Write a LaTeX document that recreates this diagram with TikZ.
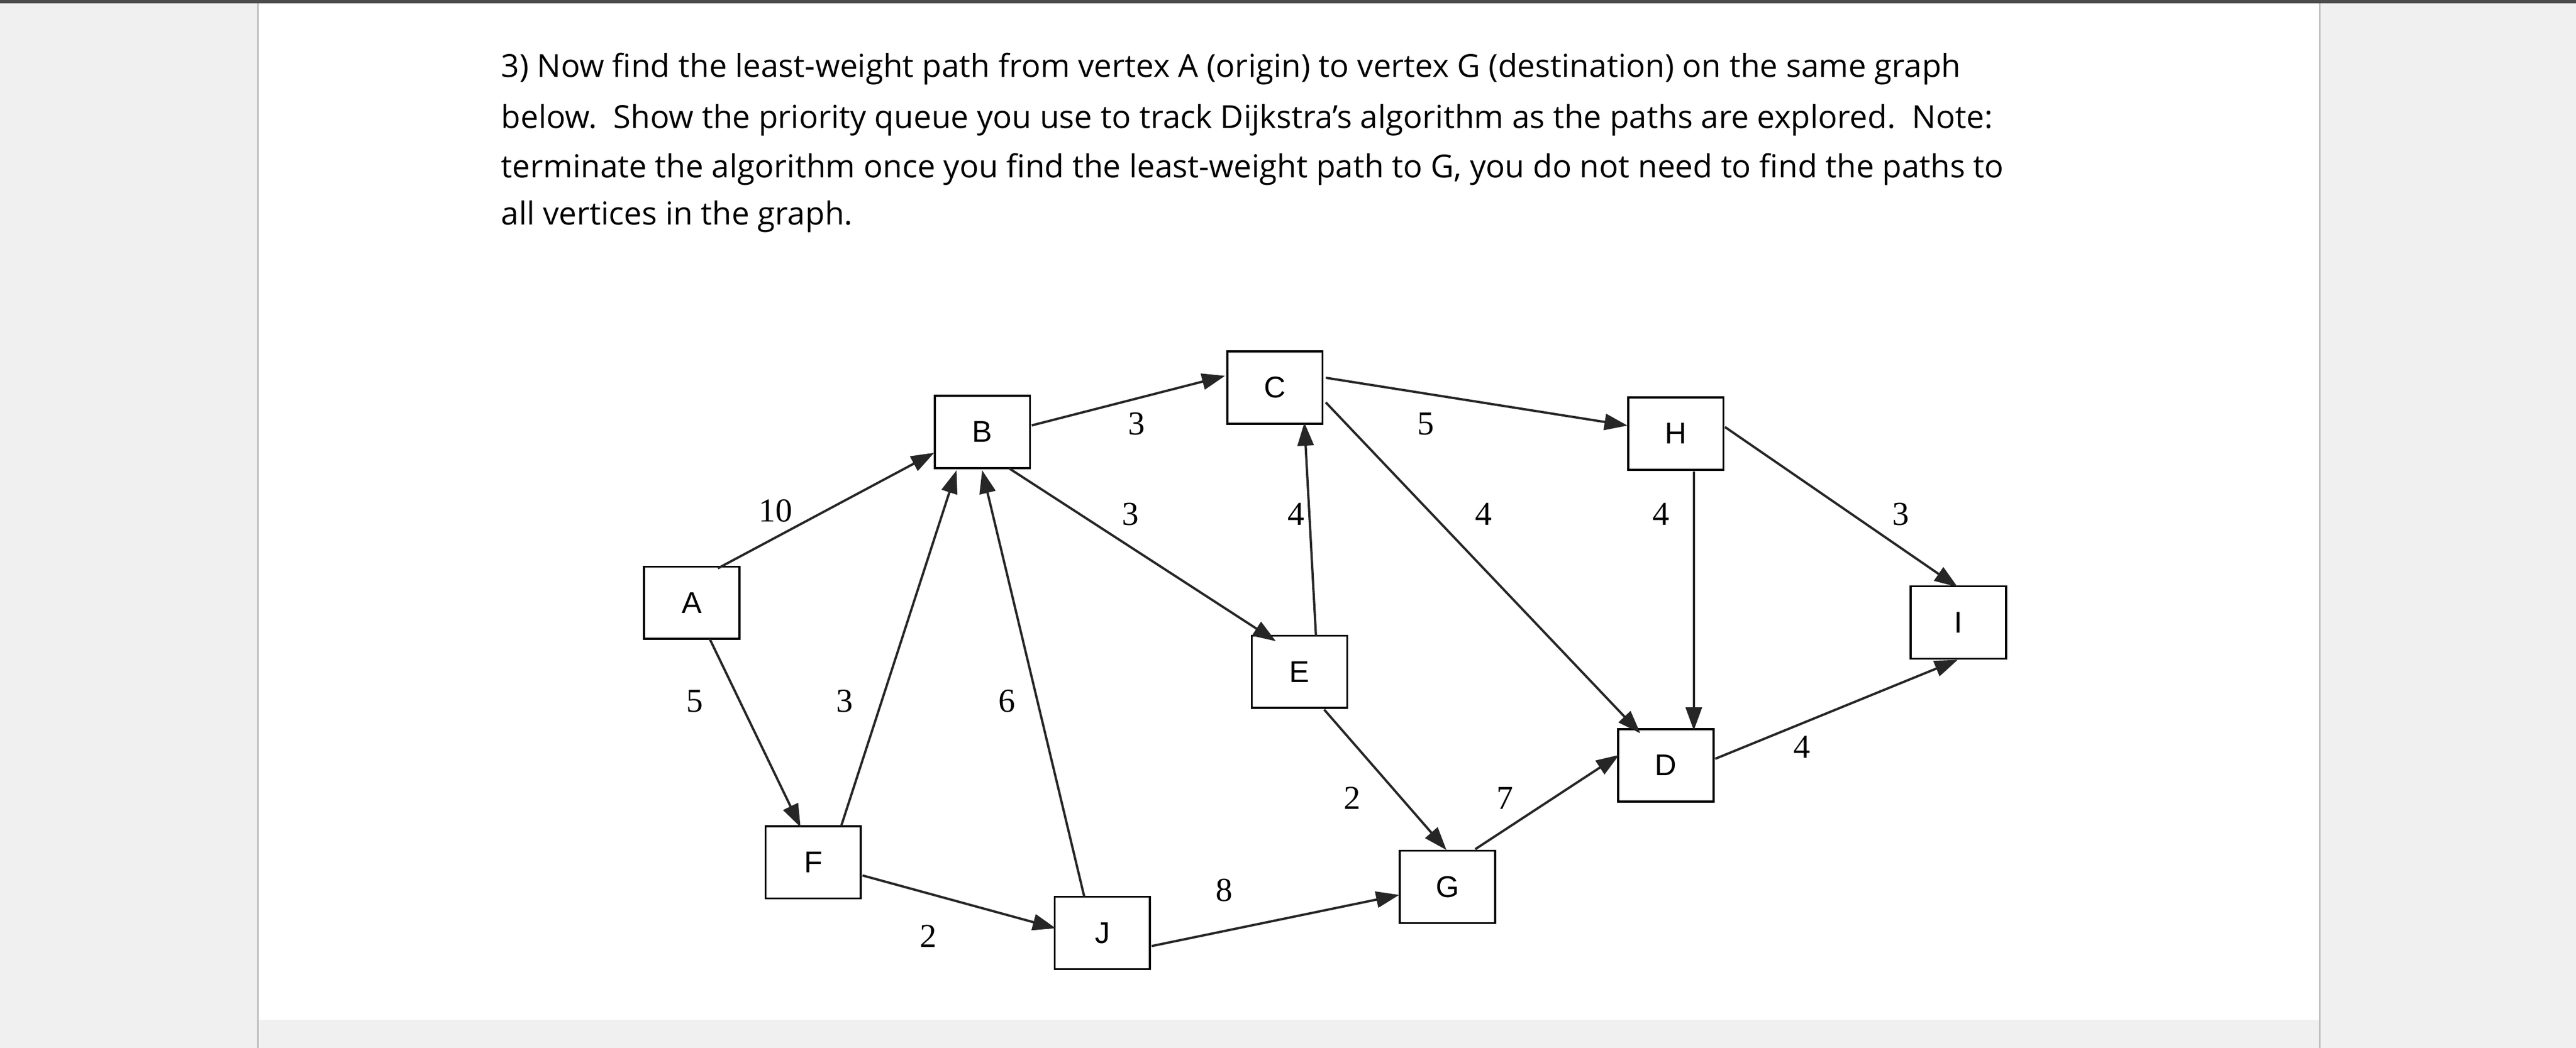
\documentclass[tikz,border=0pt]{standalone}
\usepackage{fontspec}
\setmainfont{Liberation Serif}
\newfontfamily\para{Open Sans}
\newfontfamily\boxf{Liberation Sans}
\usetikzlibrary{calc,arrows.meta}
\begin{document}
\begin{tikzpicture}[x=0.1cm,y=-0.1cm,
 vbox/.style={draw,line width=3.5pt,minimum width=5.8cm,minimum height=4.4cm,inner sep=0,font=\boxf\fontsize{52}{56}\selectfont},
 edge/.style={line width=4pt,black!85,-{Triangle[length=40pt,width=28pt]},shorten >=-2pt},
 wt/.style={font=\fontsize{58}{60}\selectfont,inner sep=0}]
\useasboundingbox (0,0) rectangle (1568,638);
\fill[black!6] (0,0) rectangle (1568,638);
\fill[white] (157,0) rectangle (1412,621);
\draw[black!25,line width=3pt] (157,0) -- (157,638) (1412,0) -- (1412,638);
\fill[black!70] (0,0) rectangle (1568,2);
\begin{scope}[every node/.style={anchor=base west,inner sep=0,font=\para\fontsize{55}{80}\selectfont}]
\node (t1) at (305,47) {3) Now find the least-weight path from vertex A (origin) to vertex G (destination) on the same graph};
\node (t2) at (305,78) {below.\ \ Show the priority queue you use to track Dijkstra’s algorithm as the paths are explored.\ \ Note:};
\node (t3) at (305,108) {terminate the algorithm once you find the least-weight path to G, you do not need to find the paths to};
\node (t4) at (305,137) {all vertices in the graph.};
\end{scope}
\node[vbox] (A) at (421,367) {A};
\node[vbox] (B) at (598,263) {B};
\node[vbox] (C) at (776,236) {C};
\node[vbox] (H) at (1020,264) {H};
\node[vbox] (I) at (1192,379) {I};
\node[vbox] (E) at (791,409) {E};
\node[vbox] (D) at (1014,466) {D};
\node[vbox] (F) at (495,525) {F};
\node[vbox] (J) at (671,568) {J};
\node[vbox] (G) at (881,540) {G};
\draw[edge] ($(A)+(16,-21)$) -- ($(B)+(-30,13)$);
\draw[edge] ($(A)+(11,22)$) -- ($(F)+(-8,-22)$);
\draw[edge] ($(F)+(17,-22)$) -- ($(B)+(-16,24)$);
\draw[edge] ($(J)+(-11,-22)$) -- ($(B)+(0,24)$);
\draw[edge] ($(B)+(30,-4)$) -- ($(C)+(-31,-7)$);
\draw[edge] ($(B)+(16,22)$) -- ($(E)+(-15,-19)$);
\draw[edge] ($(E)+(10,-22)$) -- ($(C)+(18,22)$);
\draw[edge] ($(C)+(31,-6)$) -- ($(H)+(-30,-5)$);
\draw[edge] ($(C)+(31,9)$) -- ($(D)+(-16,-20)$);
\draw[edge] ($(H)+(11,23)$) -- ($(D)+(17,-22)$);
\draw[edge] ($(H)+(30,-4)$) -- ($(I)+(-1,-22)$);
\draw[edge] ($(D)+(30,-4)$) -- ($(I)+(-1,23)$);
\draw[edge] ($(E)+(15,23)$) -- ($(G)+(-1,-23)$);
\draw[edge] ($(G)+(17,-23)$) -- ($(D)+(-29,-6)$);
\draw[edge] ($(F)+(30,8)$) -- ($(J)+(-29,-3)$);
\draw[edge] ($(J)+(30,8)$) -- ($(G)+(-30,5)$);
\node[wt] (w1) at (472,311) {10};
\node[wt] (w2) at (423,427) {5};
\node[wt] (w3) at (514,427) {3};
\node[wt] (w4) at (613,427) {6};
\node[wt] (w5) at (692,258) {3};
\node[wt] (w6) at (688,313) {3};
\node[wt] (w7) at (789,313) {4};
\node[wt] (w8) at (868,258) {5};
\node[wt] (w9) at (903,313) {4};
\node[wt] (w10) at (1011,313) {4};
\node[wt] (w11) at (1157,313) {3};
\node[wt] (w12) at (1097,455) {4};
\node[wt] (w13) at (823,486) {2};
\node[wt] (w14) at (916,486) {7};
\node[wt] (w15) at (745,542) {8};
\node[wt] (w16) at (565,570) {2};
\end{tikzpicture}
\end{document}
